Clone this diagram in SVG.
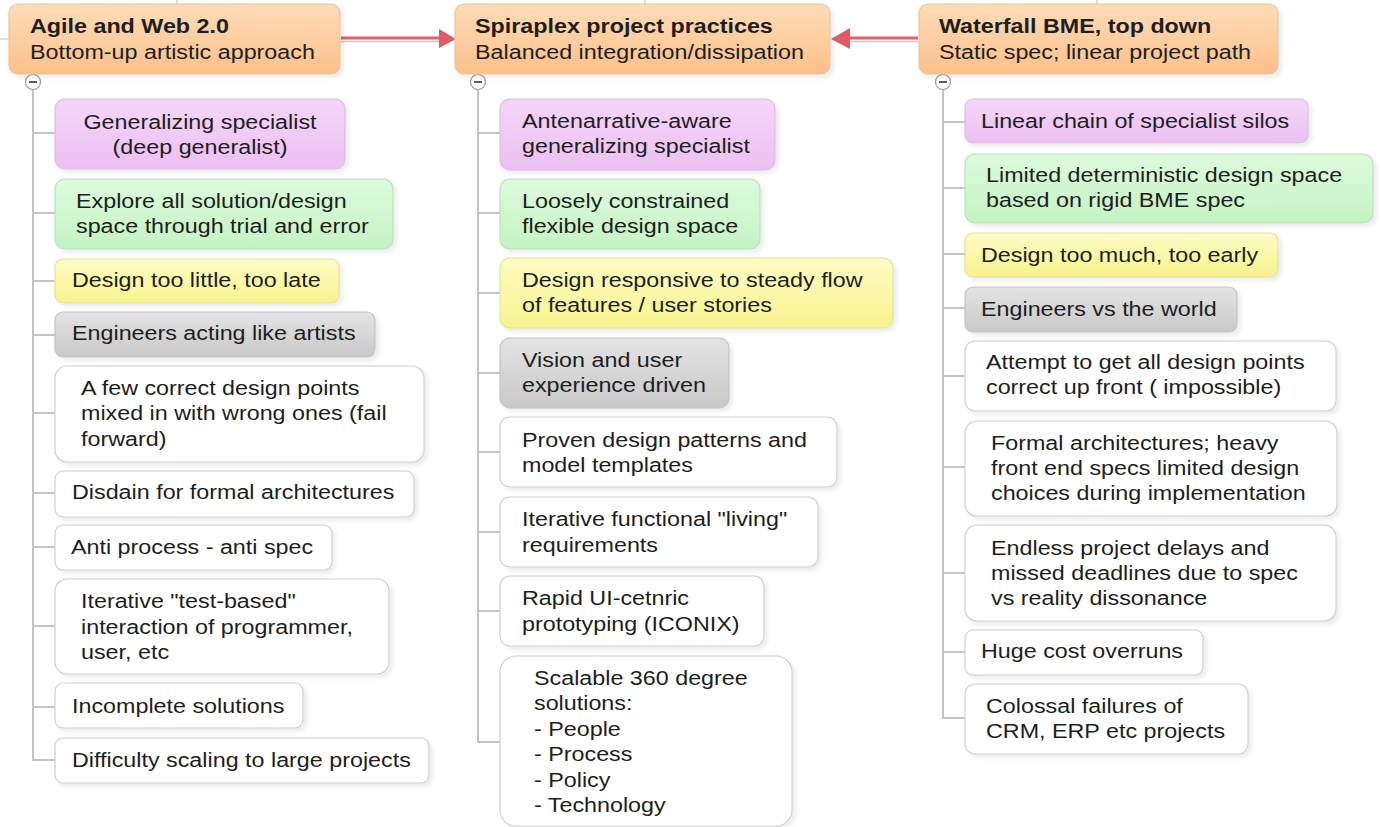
<svg xmlns="http://www.w3.org/2000/svg" width="1382" height="827" viewBox="0 0 1382 827">
<style>
.t{font-family:"Liberation Sans",Arial,sans-serif;font-size:21px;fill:#1e1e1e}
.b{font-weight:bold}
.c{text-anchor:middle}
.tree{fill:none;stroke:#c4c4c4;stroke-width:2}
.n{stroke-width:1.2;filter:url(#sh)}
.w{fill:#ffffff;stroke:#cfcfcf}
.p{fill:url(#gp);stroke:#dcbfe2}
.g{fill:url(#gg);stroke:#bfe0bf}
.y{fill:url(#gy);stroke:#e6e39a}
.k{fill:url(#gk);stroke:#c4c4c4}
.h{fill:url(#gh);stroke:#efc39a;stroke-width:1.2;filter:url(#sh)}
.arr{stroke:#e0606c;stroke-width:3;fill:none}
.arr2{stroke:#f2b8bf;stroke-width:1.5;fill:none}
.ah{fill:#e05a68}
.tog{fill:#fff;stroke:#9a9a9a;stroke-width:1.2}
.faint{stroke:#d4d4d4;stroke-width:1.5}
</style>
<defs>
<filter id="sh" x="-5%" y="-10%" width="115%" height="130%">
<feDropShadow dx="3" dy="3" stdDeviation="2" flood-color="#000" flood-opacity="0.08"/>
</filter>
<linearGradient id="gh" x1="0" y1="0" x2="0" y2="1"><stop offset="0" stop-color="#fedcb8"/><stop offset="1" stop-color="#fbc08a"/></linearGradient>
<linearGradient id="gp" x1="0" y1="0" x2="0" y2="1"><stop offset="0" stop-color="#f4d6f8"/><stop offset="1" stop-color="#ebc0f1"/></linearGradient>
<linearGradient id="gg" x1="0" y1="0" x2="0" y2="1"><stop offset="0" stop-color="#ddfbdc"/><stop offset="1" stop-color="#c4f3c3"/></linearGradient>
<linearGradient id="gy" x1="0" y1="0" x2="0" y2="1"><stop offset="0" stop-color="#fdfcc4"/><stop offset="1" stop-color="#f8f38e"/></linearGradient>
<linearGradient id="gk" x1="0" y1="0" x2="0" y2="1"><stop offset="0" stop-color="#e4e4e4"/><stop offset="1" stop-color="#c8c8c8"/></linearGradient>
</defs>
<rect width="1382" height="827" fill="#ffffff"/>

<g id="connectors">
<line class="faint" x1="177" y1="0" x2="177" y2="5"/>
<line class="faint" x1="645" y1="0" x2="645" y2="5"/>
<line class="faint" x1="1097" y1="0" x2="1097" y2="5"/>
<line class="faint" x1="0" y1="39" x2="9" y2="39"/>
<path class="tree" d="M33,90 V760 H55 M33,133 H55 M33,213 H55 M33,281 H55 M33,335 H55 M33,413 H55 M33,493 H55 M33,547 H55 M33,626 H55 M33,707 H55"/>
<path class="tree" d="M478,90 V742 H500 M478,133 H500 M478,213 H500 M478,293 H500 M478,373 H500 M478,452 H500 M478,532 H500 M478,611 H500"/>
<path class="tree" d="M943,90 V718 H965 M943,122 H965 M943,188 H965 M943,254 H965 M943,308 H965 M943,376 H965 M943,467 H965 M943,573 H965 M943,652 H965"/>
<line class="arr2" x1="341" y1="41.5" x2="442" y2="41.5"/>
<line class="arr" x1="341" y1="38" x2="442" y2="38"/>
<polygon class="ah" points="439,29 456,39 439,48"/>
<line class="arr2" x1="918" y1="41.5" x2="848" y2="41.5"/>
<line class="arr" x1="918" y1="38" x2="848" y2="38"/>
<polygon class="ah" points="850,28 831,39 850,49"/>
<circle class="tog" cx="33" cy="82" r="7.5"/><line x1="29" y1="82" x2="37" y2="82" stroke="#333" stroke-width="1.6"/>
<circle class="tog" cx="478" cy="82" r="7.5"/><line x1="474" y1="82" x2="482" y2="82" stroke="#333" stroke-width="1.6"/>
<circle class="tog" cx="943" cy="82" r="7.5"/><line x1="939" y1="82" x2="947" y2="82" stroke="#333" stroke-width="1.6"/>
</g>

<g id="h-agile">
<rect class="h" x="9" y="4" width="331" height="70" rx="9"/>
<text class="t b" transform="translate(30 33) scale(1.11 1)">Agile and Web 2.0</text>
<text class="t" transform="translate(30 59) scale(1.11 1)">Bottom-up artistic approach</text>
</g>
<g id="h-spiraplex">
<rect class="h" x="455" y="4" width="375" height="70" rx="9"/>
<text class="t b" transform="translate(475 33) scale(1.11 1)">Spiraplex project practices</text>
<text class="t" transform="translate(475 59) scale(1.11 1)">Balanced integration/dissipation</text>
</g>
<g id="h-waterfall">
<rect class="h" x="919" y="4" width="359" height="70" rx="9"/>
<text class="t b" transform="translate(939 33) scale(1.11 1)">Waterfall BME, top down</text>
<text class="t" transform="translate(939 59) scale(1.11 1)">Static spec; linear project path</text>
</g>

<g id="a1">
<rect class="n p" x="55" y="99" width="290" height="70" rx="10"/>
<text class="t c" transform="translate(200 129) scale(1.11 1)"><tspan x="0">Generalizing specialist</tspan><tspan x="0" dy="25">(deep generalist)</tspan></text>
</g>
<g id="a2">
<rect class="n g" x="55" y="179" width="338" height="70" rx="10"/>
<text class="t" transform="translate(76 208) scale(1.11 1)"><tspan x="0">Explore all solution/design</tspan><tspan x="0" dy="25">space through trial and error</tspan></text>
</g>
<g id="a3">
<rect class="n y" x="55" y="259" width="284" height="44" rx="8"/>
<text class="t" transform="translate(72 287) scale(1.11 1)">Design too little, too late</text>
</g>
<g id="a4">
<rect class="n k" x="55" y="312" width="320" height="45" rx="8"/>
<text class="t" transform="translate(72 340) scale(1.11 1)">Engineers acting like artists</text>
</g>
<g id="a5">
<rect class="n w" x="55" y="366" width="369" height="96" rx="12"/>
<text class="t" transform="translate(81 395) scale(1.11 1)"><tspan x="0">A few correct design points</tspan><tspan x="0" dy="25.5">mixed in with wrong ones (fail</tspan><tspan x="0" dy="25.5">forward)</tspan></text>
</g>
<g id="a6">
<rect class="n w" x="55" y="471" width="359" height="46" rx="8"/>
<text class="t" transform="translate(72 499) scale(1.11 1)">Disdain for formal architectures</text>
</g>
<g id="a7">
<rect class="n w" x="55" y="525" width="277" height="45" rx="8"/>
<text class="t" transform="translate(71 554) scale(1.11 1)">Anti process - anti spec</text>
</g>
<g id="a8">
<rect class="n w" x="55" y="579" width="334" height="95" rx="12"/>
<text class="t" transform="translate(81 608) scale(1.11 1)"><tspan x="0">Iterative "test-based"</tspan><tspan x="0" dy="26">interaction of programmer,</tspan><tspan x="0" dy="25.5">user, etc</tspan></text>
</g>
<g id="a9">
<rect class="n w" x="55" y="683" width="248" height="45" rx="8"/>
<text class="t" transform="translate(72 713) scale(1.11 1)">Incomplete solutions</text>
</g>
<g id="a10">
<rect class="n w" x="55" y="738" width="374" height="45" rx="8"/>
<text class="t" transform="translate(72 767) scale(1.11 1)">Difficulty scaling to large projects</text>
</g>

<g id="s1">
<rect class="n p" x="500" y="99" width="275" height="71" rx="10"/>
<text class="t" transform="translate(522 128) scale(1.11 1)"><tspan x="0">Antenarrative-aware</tspan><tspan x="0" dy="25">generalizing specialist</tspan></text>
</g>
<g id="s2">
<rect class="n g" x="500" y="179" width="260" height="70" rx="10"/>
<text class="t" transform="translate(522 208) scale(1.11 1)"><tspan x="0">Loosely constrained</tspan><tspan x="0" dy="25">flexible design space</tspan></text>
</g>
<g id="s3">
<rect class="n y" x="500" y="258" width="393" height="70" rx="10"/>
<text class="t" transform="translate(522 287) scale(1.11 1)"><tspan x="0">Design responsive to steady flow</tspan><tspan x="0" dy="25">of features / user stories</tspan></text>
</g>
<g id="s4">
<rect class="n k" x="500" y="338" width="229" height="70" rx="10"/>
<text class="t" transform="translate(522 367) scale(1.11 1)"><tspan x="0">Vision and user</tspan><tspan x="0" dy="25">experience driven</tspan></text>
</g>
<g id="s5">
<rect class="n w" x="500" y="417" width="337" height="70" rx="10"/>
<text class="t" transform="translate(522 447) scale(1.11 1)"><tspan x="0">Proven design patterns and</tspan><tspan x="0" dy="25">model templates</tspan></text>
</g>
<g id="s6">
<rect class="n w" x="500" y="497" width="318" height="70" rx="10"/>
<text class="t" transform="translate(522 526) scale(1.11 1)"><tspan x="0">Iterative functional "living"</tspan><tspan x="0" dy="26">requirements</tspan></text>
</g>
<g id="s7">
<rect class="n w" x="500" y="576" width="264" height="70" rx="10"/>
<text class="t" transform="translate(522 605) scale(1.11 1)"><tspan x="0">Rapid UI-cetnric</tspan><tspan x="0" dy="26">prototyping (ICONIX)</tspan></text>
</g>
<g id="s8">
<rect class="n w" x="500" y="656" width="292" height="170" rx="16"/>
<text class="t" transform="translate(534 685) scale(1.11 1)"><tspan x="0">Scalable 360 degree</tspan><tspan x="0" dy="25.5">solutions:</tspan><tspan x="0" dy="25.5">- People</tspan><tspan x="0" dy="25.5">- Process</tspan><tspan x="0" dy="25.5">- Policy</tspan><tspan x="0" dy="25.5">- Technology</tspan></text>
</g>

<g id="w1">
<rect class="n p" x="965" y="99" width="343" height="44" rx="8"/>
<text class="t" transform="translate(981 128) scale(1.11 1)">Linear chain of specialist silos</text>
</g>
<g id="w2">
<rect class="n g" x="965" y="154" width="408" height="69" rx="10"/>
<text class="t" transform="translate(986 182) scale(1.11 1)"><tspan x="0">Limited deterministic design space</tspan><tspan x="0" dy="25">based on rigid BME spec</tspan></text>
</g>
<g id="w3">
<rect class="n y" x="965" y="233" width="313" height="44" rx="8"/>
<text class="t" transform="translate(981 262) scale(1.11 1)">Design too much, too early</text>
</g>
<g id="w4">
<rect class="n k" x="965" y="287" width="272" height="45" rx="8"/>
<text class="t" transform="translate(981 316) scale(1.11 1)">Engineers vs the world</text>
</g>
<g id="w5">
<rect class="n w" x="965" y="341" width="371" height="70" rx="10"/>
<text class="t" transform="translate(986 369) scale(1.11 1)"><tspan x="0">Attempt to get all design points</tspan><tspan x="0" dy="25">correct up front ( impossible)</tspan></text>
</g>
<g id="w6">
<rect class="n w" x="965" y="421" width="372" height="95" rx="12"/>
<text class="t" transform="translate(991 450) scale(1.11 1)"><tspan x="0">Formal architectures; heavy</tspan><tspan x="0" dy="25">front end specs limited design</tspan><tspan x="0" dy="25.5">choices during implementation</tspan></text>
</g>
<g id="w7">
<rect class="n w" x="965" y="525" width="371" height="96" rx="12"/>
<text class="t" transform="translate(991 555) scale(1.11 1)"><tspan x="0">Endless project delays and</tspan><tspan x="0" dy="25">missed deadlines due to spec</tspan><tspan x="0" dy="25">vs reality dissonance</tspan></text>
</g>
<g id="w8">
<rect class="n w" x="965" y="630" width="238" height="45" rx="8"/>
<text class="t" transform="translate(981 658) scale(1.11 1)">Huge cost overruns</text>
</g>
<g id="w9">
<rect class="n w" x="965" y="684" width="283" height="70" rx="10"/>
<text class="t" transform="translate(986 713) scale(1.11 1)"><tspan x="0">Colossal failures of</tspan><tspan x="0" dy="25">CRM, ERP etc projects</tspan></text>
</g>
</svg>
